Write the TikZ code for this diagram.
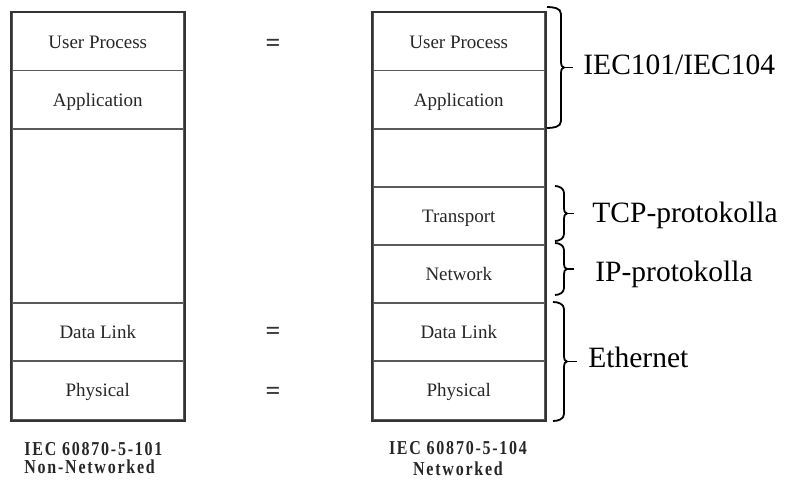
\documentclass[tikz,border=0pt]{standalone}
\usepackage{fontspec}
\setmainfont{Liberation Serif}
\newfontfamily\stackcapfont[LetterSpace=11]{Liberation Serif}
\begin{document}
\begin{tikzpicture}[x=0.5pt,y=-0.5pt,
  layer/.style={draw=black!65, line width=0.75pt, inner sep=0pt,
    minimum width=86pt, anchor=north west, text=black!85,
    font=\fontsize{9.5pt}{11pt}\selectfont, text height=6.3pt, text depth=0pt},
  frame/.style={draw=black!80, line width=1pt},
  eqsign/.style={font=\bfseries\fontsize{13pt}{15pt}\selectfont, text=black!80, inner sep=0pt},
  bracelabel/.style={anchor=base west, font=\fontsize{14.75pt}{17pt}\selectfont, inner sep=0pt},
  stackcap/.style={font=\stackcapfont\bfseries\fontsize{8pt}{10pt}\selectfont,
    inner sep=0pt, yscale=1.23, transform shape, text=black!85},
  bracepath/.style={draw=black, line width=0.9pt, line join=round}]
\useasboundingbox (0,0) rectangle (785,481);

% IEC 60870-5-101 stack
\node[layer, minimum height=29pt]   (lup)  at (11,12)  {User Process};
\node[layer, minimum height=29pt]   (lapp) at (11,70)  {Application};
\node[layer, minimum height=87pt]   (lgap) at (11,128) {};
\node[layer, minimum height=29pt]   (ldl)  at (11,302) {Data Link};
\node[layer, minimum height=29.5pt] (lph)  at (11,360) {Physical};
\draw[frame] (lup.north west) rectangle (lph.south east);

% IEC 60870-5-104 stack
\node[layer, minimum height=29pt]   (rup)  at (372,12)  {User Process};
\node[layer, minimum height=29pt]   (rapp) at (372,70)  {Application};
\node[layer, minimum height=29pt]   (rgap) at (372,128) {};
\node[layer, minimum height=29pt]   (rtr)  at (372,186) {Transport};
\node[layer, minimum height=29pt]   (rnw)  at (372,244) {Network};
\node[layer, minimum height=29pt]   (rdl)  at (372,302) {Data Link};
\node[layer, minimum height=29.5pt] (rph)  at (372,360) {Physical};
\draw[frame] (rup.north west) rectangle (rph.south east);

% equivalence marks between the stacks
\node[eqsign] (eq1) at (273,45)  {=};
\node[eqsign] (eq2) at (273,333) {=};
\node[eqsign] (eq3) at (273,393) {=};

% captions under the stacks
\node[stackcap, anchor=base west] (lcap1) at (24,455) {IEC 60870-5-101};
\node[stackcap, anchor=base west] (lcap2) at (24,473) {Non-Networked};
\node[stackcap, anchor=base] (rcap1) at (458,454) {IEC 60870-5-104};
\node[stackcap, anchor=base] (rcap2) at (458,475) {Networked};

% curly brace: base x, stem x, tip x, top y, bottom y
\newcommand\layerbrace[5]{%
  \pgfmathsetmacro\bym{(#4+#5)/2}%
  \draw[bracepath] (#1,#4) to[out=0,in=90] (#2,#4+7)
    -- (#2,\bym-5) to[out=-90,in=180] (#2+3,\bym)
    to[out=180,in=90] (#2,\bym+5)
    -- (#2,#5-7) to[out=-90,in=0] (#1,#5);
  \draw[bracepath] (#2+2,\bym) -- (#3,\bym);}

\layerbrace{547}{561}{573}{7}{128}
\layerbrace{555}{564}{574}{186}{241}
\layerbrace{555}{564}{574}{243}{295}
\layerbrace{553}{564}{577}{302}{421}

\node[bracelabel] (iec) at (583,75)  {IEC101/IEC104};
\node[bracelabel] (tcp) at (592,222) {TCP-protokolla};
\node[bracelabel] (ip)  at (595,281) {IP-protokolla};
\node[bracelabel] (eth) at (588,367) {Ethernet};
\end{tikzpicture}
\end{document}
